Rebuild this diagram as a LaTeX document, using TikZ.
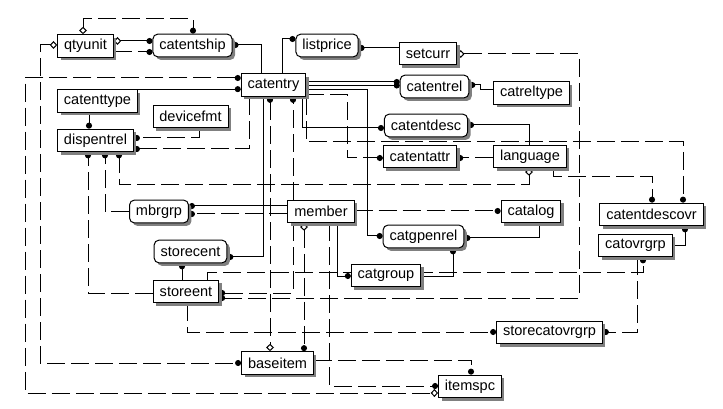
\documentclass[tikz,border=0pt]{standalone}
\usepackage{fontspec}
\setmainfont{Liberation Sans}
\usetikzlibrary{arrows.meta,shadows}
\pgfdeclarelayer{background}
\pgfsetlayers{background,main}

\begin{document}
\begin{tikzpicture}[x=0.75pt, y=-0.75pt,
        entity/.style={draw, fill=white, line width=0.75pt, inner xsep=4.8pt, inner ysep=0pt, minimum height=17pt, font=\fontsize{10.9}{13}\selectfont,
            drop shadow={shadow xshift=2.25pt, shadow yshift=-2.25pt, fill=black!50, opacity=1}},
        depent/.style={entity, rounded corners=3.5pt},
        idrel/.style={line width=0.75pt},
        nonid/.style={idrel, dash pattern=on 13.5pt off 4.5pt},
        erdot/.tip={Circle[length=4.5pt]},
        erdia/.tip={Diamond[open, length=5.5pt, width=6pt]},
    ]
        \useasboundingbox (0,0) rectangle (723,409);

        % Independent entities
        \foreach \n/\x/\y in {qtyunit/85.5/46, catentry/273.5/85, setcurr/428/53.5, catreltype/531.5/93,
                catenttype/97.5/101, devicefmt/190.5/116.5, dispentrel/95.5/140.5, catentattr/420/156.5,
                language/530/156.5, member/321/211.5, catalog/531/211.5, catentdescovr/651.5/214.5,
                catovrgrp/635.5/245.5, catgroup/386/275.5, storeent/186/291.5, storecatovrgrp/549.5/332.5,
                baseitem/277.5/363, itemspc/470/386.5}
            \node[entity] (\n) at (\x,\y) {\n};

        % Dependent entities (rounded)
        \foreach \n/\x/\y in {catentship/192.5/45.5, listprice/327/45.5, catentrel/434.5/86.5,
                catentdesc/426/125.5, mbrgrp/159/211.5, storecent/190.5/251.5, catgpenrel/423.5/236.5}
            \node[depent] (\n) at (\x,\y) {\n};

        \begin{pgfonlayer}{background}
        % qtyunit
        \draw[nonid, erdia-erdot] (83,0 |- qtyunit.north) |- (193,19) -- (193,0 |- catentship.north);
        \draw[idrel, erdia-erdot] (qtyunit.east |- 0,41) -- (catentship.west |- 0,41);
        \draw[nonid, -erdot] (qtyunit.east |- 0,52) -- (catentship.west |- 0,52);
        \draw[nonid, erdia-erdot] (qtyunit.west |- 0,45) -| (40,363) -- (baseitem.west |- 0,363);

        % catentry
        \draw[nonid, erdot-erdia] (catentry.west |- 0,78) -| (25,393) -- (itemspc.west |- 0,393);
        \draw[idrel, -erdot] (catenttype.north east) -- (catentry.west |- catenttype.north east);
        \draw[idrel, -erdot] (261,0 |- catentry.north) |- (catentship.east |- 0,45);
        \draw[idrel, -erdot] (282,0 |- catentry.north) |- (listprice.west |- 0,39);
        \draw[idrel, -erdot] (catentry.east |- 0,82) -- (catentrel.west |- 0,82);
        \draw[idrel, -erdot] (catentry.east |- 0,85.5) -- (catentrel.west |- 0,85.5);
        \draw[idrel, -erdot] (catentry.east |- 0,90) -| (367,236) -- (catgpenrel.west |- 0,236);
        \draw[nonid, -erdot] (catentry.east |- 0,95) -| (347,158) -- (catentattr.west |- 0,158);
        \draw[idrel, -erdot] (302,0 |- catentry.south) |- (catentdesc.west |- 0,128);
        \draw[nonid, -erdot] (306,0 |- catentry.south) |- (683,142) -- (683,0 |- catentdescovr.north);
        \draw[nonid, -erdot] (249,0 |- catentry.south) |- (dispentrel.east |- 0,149);
        \draw[idrel, -erdot] (263,0 |- catentry.south) |- (storecent.east |- 0,257);
        \draw[nonid, erdot-erdia] (270,0 |- catentry.south) -- (270,0 |- baseitem.north);

        % dispentrel
        \draw[idrel, -erdot] (89,0 |- catenttype.south) -- (89,0 |- dispentrel.north);
        \draw[nonid, -erdot] (199,0 |- devicefmt.south) |- (dispentrel.east |- 0,138);
        \draw[nonid, -erdot] (storeent.west |- 0,293) -| (88,0 |- dispentrel.south);
        \draw[nonid, -erdot] (mbrgrp.west |- 0,212) -| (105,0 |- dispentrel.south);
        \draw[nonid, erdia-erdot] (529,0 |- language.south) |- (119,185) -- (119,0 |- dispentrel.south);

        % setcurr, language, catreltype
        \draw[idrel, -erdot] (setcurr.west |- 0,48) -- (listprice.east |- 0,48);
        \draw[nonid, erdia-erdot] (setcurr.east |- 0,54) -| (579,298) -- (storeent.east |- 0,298);
        \draw[idrel, -erdot] (529,0 |- language.north) |- (catentdesc.east |- 0,125);
        \draw[nonid, -erdot] (language.west |- 0,158) -- (catentattr.east |- 0,158);
        \draw[nonid, -erdot] (553,0 |- language.south) |- (652,177) -- (652,0 |- catentdescovr.north);
        \draw[idrel, -erdot] (catreltype.west |- 0,90) -| (480,85) -- (catentrel.east |- 0,85);

        % catalog, catgroup, catovrgrp
        \draw[idrel, -erdot] (539,0 |- catalog.south) |- (catgpenrel.east |- 0,238);
        \draw[idrel, -erdot] (catgroup.east |- 0,276) -| (453,0 |- catgpenrel.south);
        \draw[idrel, -erdot] (catovrgrp.east |- 0,246) -| (685,0 |- catentdescovr.south);
        \draw[nonid, -erdot] (637,0 |- catovrgrp.south) |- (storecatovrgrp.east |- 0,332);

        % member
        \draw[nonid, -erdot] (member.east |- 0,211) -- (catalog.west |- 0,211);
        \draw[idrel, -erdot] (member.west |- 0,206) -- (mbrgrp.east |- 0,206);
        \draw[nonid, -erdot] (member.west |- 0,214) -- (mbrgrp.east |- 0,214);
        \draw[nonid, -erdot] (293,0 |- member.north) -- (293,0 |- catentry.south);
        \draw[nonid, -erdot] (293,0 |- member.south) |- (storeent.east |- 0,293);
        \draw[nonid, erdia-erdot] (304,0 |- member.south) -- (304,0 |- baseitem.north);
        \draw[nonid, -erdot] (329,0 |- member.south) |- (itemspc.west |- 0,386);
        \draw[idrel, -erdot] (337,0 |- member.south) |- (catgroup.west |- 0,276);

        % storeent, baseitem
        \draw[idrel, -erdot] (182,0 |- storeent.north) -- (182,0 |- storecent.south);
        \draw[nonid, -erdot] (207,0 |- storeent.north) |- (643,272) -- (643,0 |- catovrgrp.south);
        \draw[nonid, -erdot] (187,0 |- storeent.south) |- (storecatovrgrp.west |- 0,332);
        \draw[nonid, -erdot] (baseitem.east |- 0,360) -| (471,0 |- itemspc.north);
        \end{pgfonlayer}
    \end{tikzpicture}
\end{document}
